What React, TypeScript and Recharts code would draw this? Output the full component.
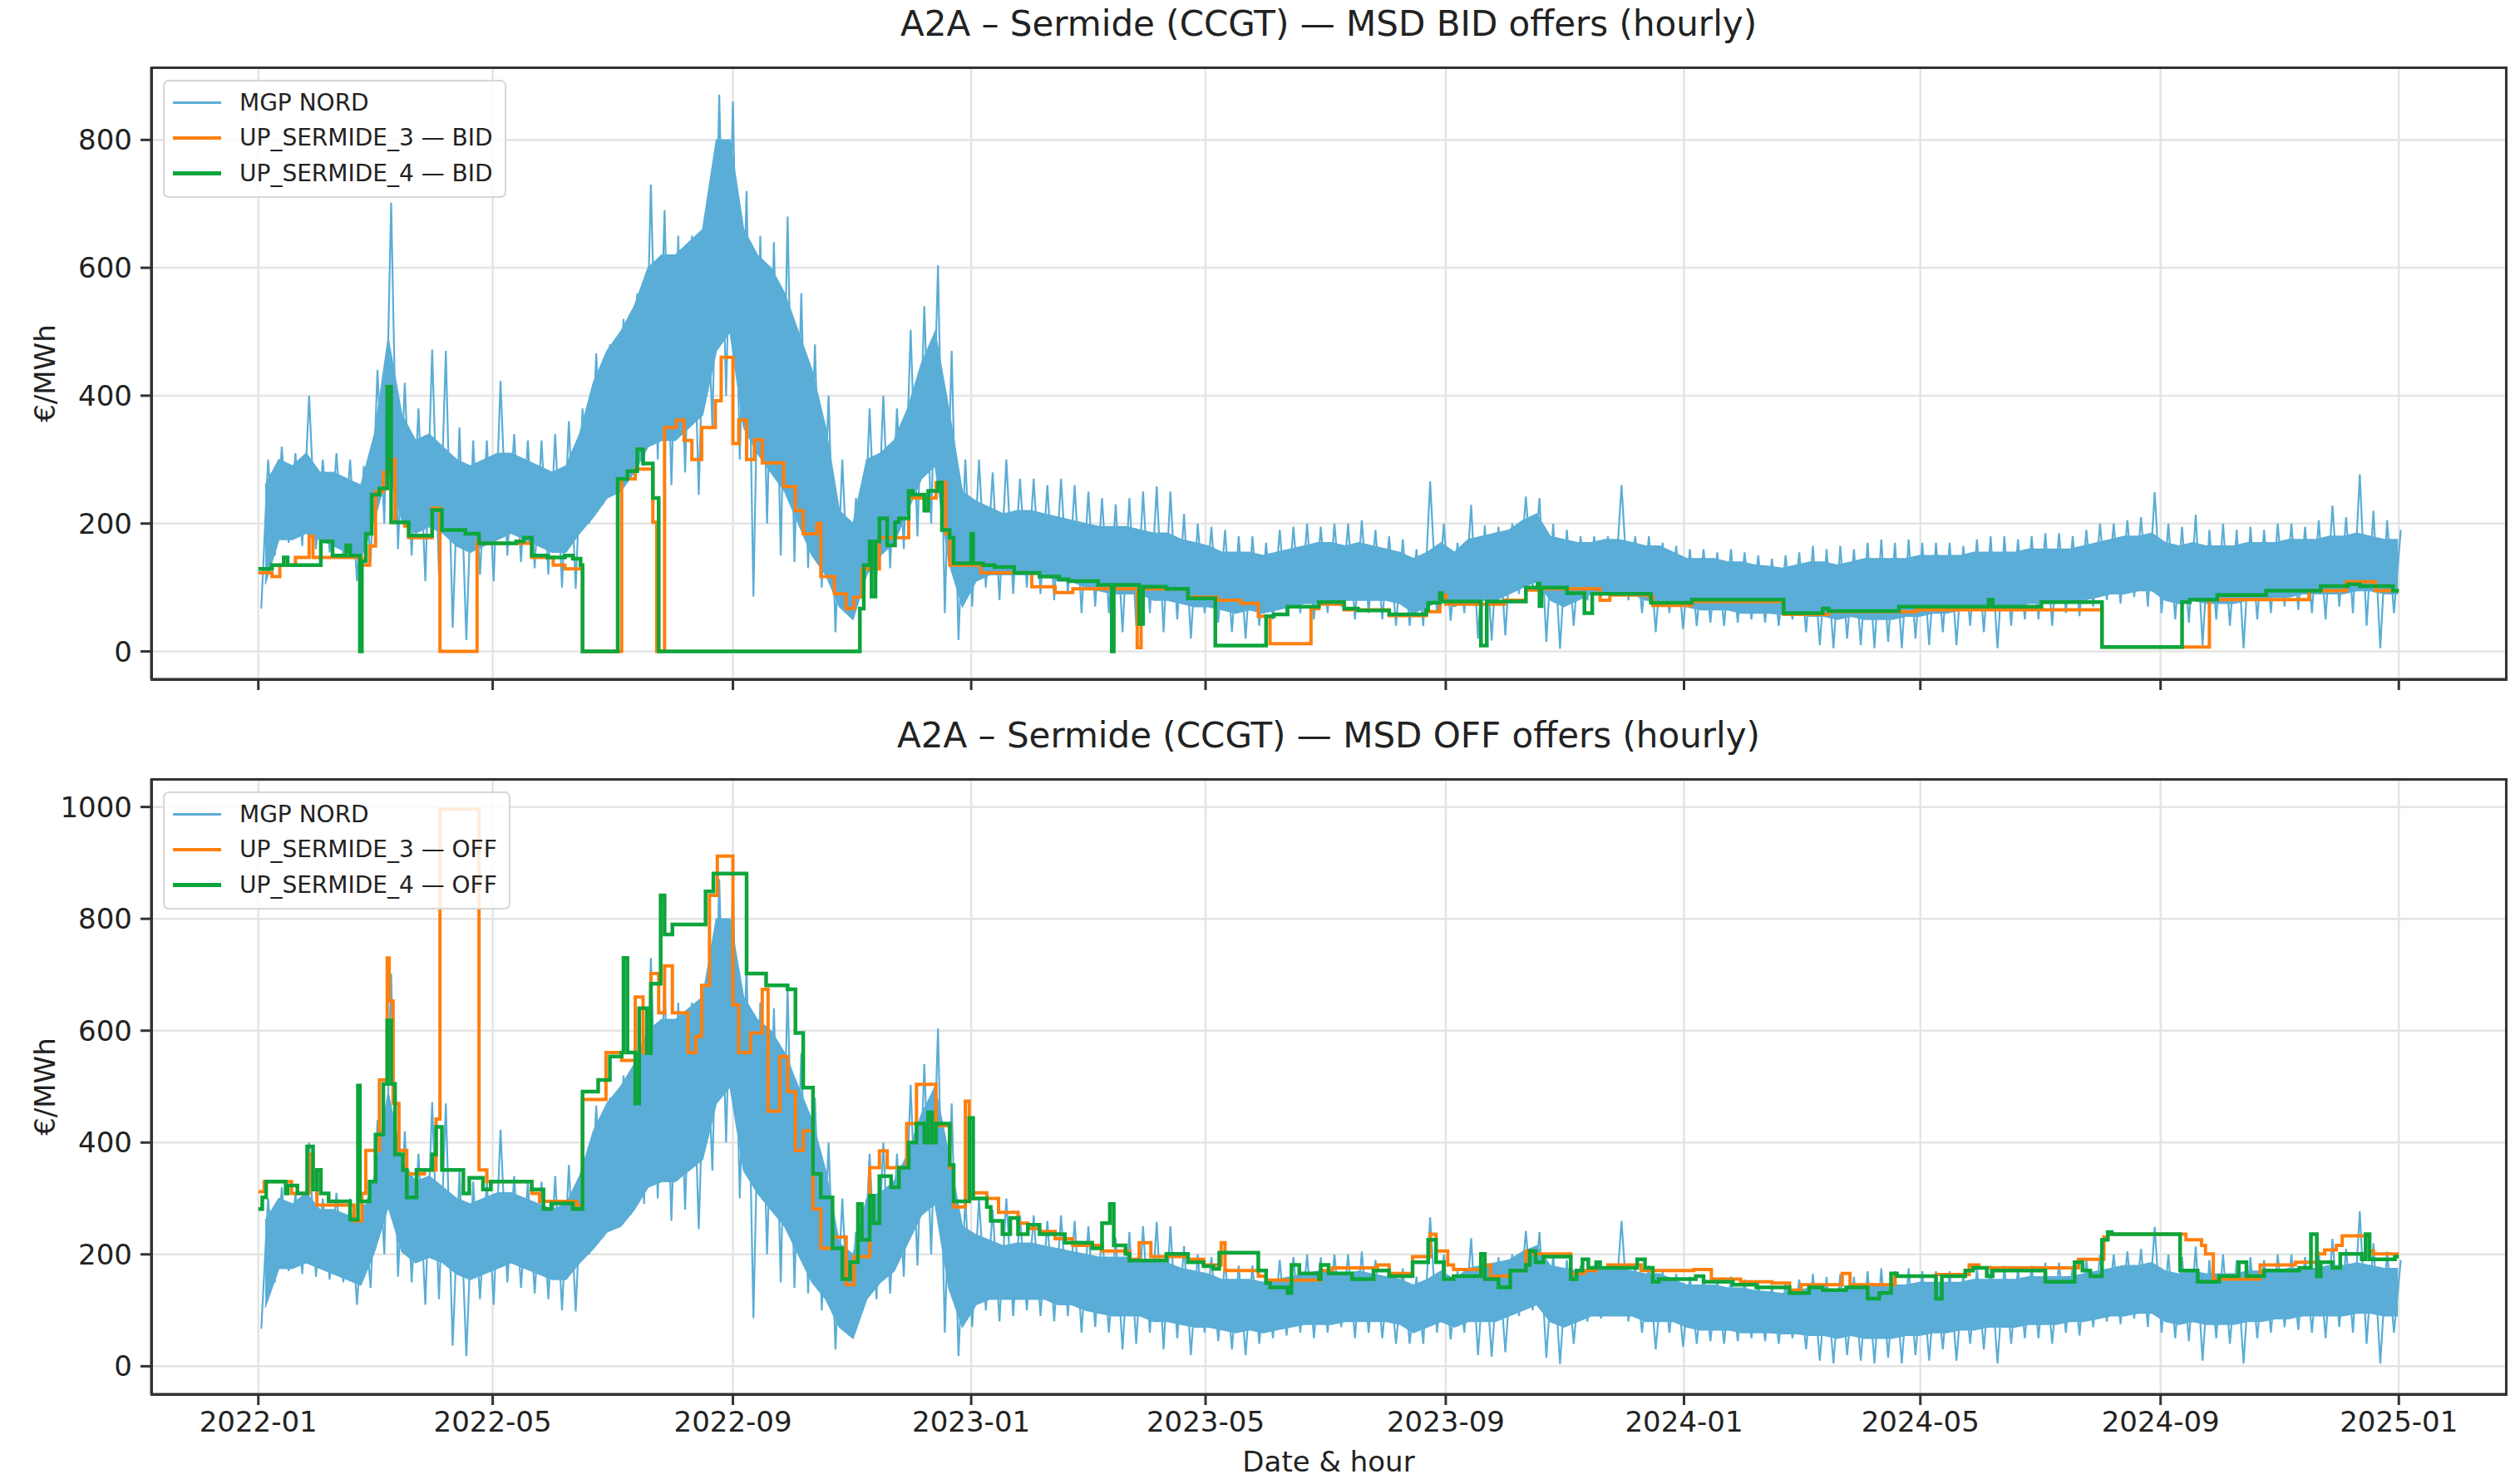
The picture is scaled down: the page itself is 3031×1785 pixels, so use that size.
import React from "react"
import { ComposedChart, Area, Line, XAxis, YAxis, CartesianGrid } from "recharts"

// x values are days since 2022-01-01 (hourly data, shown as weekly envelopes)
const TICK_DAYS = [0, 120, 243, 365, 485, 608, 730, 851, 974, 1096]
const TICK_LABELS = ["2022-01", "2022-05", "2022-09", "2023-01", "2023-05", "2023-09", "2024-01", "2024-05", "2024-09", "2025-01"]
const X_DOMAIN: [number, number] = [-54.8, 1150.8]

// MGP NORD weekly dense band (lo / hi) and weekly extremes (peak / trough), €/MWh
const MGP_LO = [
  105, 175, 175, 185, 175, 165, 155, 145, 205, 285, 205, 185, 195, 185, 165, 155, 165, 175, 185, 175,
  165, 155, 155, 185, 210, 240, 250, 280, 320, 330, 330, 350, 370, 470, 500, 350, 310, 280, 250, 200,
  150, 120, 70, 50, 120, 150, 170, 220, 270, 290, 140, 70, 110, 120, 120, 120, 120, 120, 110, 110,
  100, 95, 90, 90, 90, 80, 80, 75, 70, 70, 65, 60, 65, 60, 65, 70, 75, 75, 75, 80,
  80, 80, 80, 75, 60, 70, 80, 70, 80, 80, 80, 90, 100, 110, 80, 70, 80, 90, 90, 90,
  90, 80, 80, 80, 70, 65, 65, 65, 60, 60, 60, 58, 58, 55, 55, 50, 55, 50, 50, 50,
  55, 55, 60, 60, 65, 65, 70, 70, 70, 75, 75, 75, 80, 80, 85, 90, 90, 95, 95, 80,
  75, 80, 75, 75, 75, 80, 80, 85, 85, 90, 90, 90, 90, 95, 95, 90, 90,
]
const MGP_HI = [
  260, 300, 290, 310, 280, 280, 270, 260, 340, 490, 370, 330, 340, 320, 300, 290, 300, 310, 310, 300,
  290, 280, 290, 340, 420, 470, 500, 540, 600, 620, 620, 640, 660, 800, 800, 660, 620, 600, 560, 500,
  440, 350, 220, 200, 300, 310, 330, 380, 450, 500, 380, 250, 235, 225, 215, 220, 220, 215, 210, 205,
  200, 195, 195, 195, 190, 185, 185, 175, 170, 165, 155, 155, 155, 150, 155, 160, 165, 170, 170, 165,
  170, 165, 160, 155, 145, 155, 170, 155, 175, 180, 185, 190, 205, 215, 180, 175, 170, 170, 175, 175,
  170, 165, 165, 155, 145, 145, 145, 140, 140, 135, 133, 130, 135, 140, 140, 135, 140, 145, 145, 145,
  145, 150, 150, 150, 150, 155, 155, 155, 155, 160, 160, 160, 160, 165, 170, 175, 180, 180, 185, 170,
  165, 170, 165, 165, 165, 170, 170, 170, 175, 175, 175, 180, 180, 185, 180, 175, 175,
]
const MGP_PEAK = [
  300, 320, 310, 400, 300, 310, 300, 290, 440, 702, 420, 380, 472, 470, 350, 330, 330, 423, 340, 330,
  330, 340, 360, 380, 466, 480, 520, 560, 730, 690, 650, 650, 650, 871, 860, 720, 650, 640, 680, 560,
  480, 400, 300, 240, 380, 400, 380, 503, 540, 604, 470, 300, 300, 280, 300, 270, 270, 260, 270, 260,
  250, 240, 230, 240, 250, 258, 250, 215, 200, 195, 190, 180, 180, 170, 190, 195, 200, 195, 200, 200,
  205, 190, 180, 175, 160, 266, 200, 170, 229, 197, 195, 200, 242, 240, 200, 190, 180, 180, 180, 260,
  180, 180, 170, 165, 160, 160, 155, 160, 155, 150, 145, 150, 155, 165, 160, 165, 160, 170, 175, 170,
  175, 170, 170, 170, 165, 175, 180, 180, 175, 180, 185, 185, 180, 190, 200, 200, 205, 210, 249, 200,
  195, 214, 190, 200, 190, 195, 190, 200, 200, 195, 205, 228, 210, 277, 220, 205, 190,
]
const MGP_TROUGH = [
  67, 150, 170, 165, 160, 155, 150, 110, 140, 200, 160, 150, 110, 120, 37, 18, 120, 110, 150, 140,
  130, 120, 100, 98, 200, 230, 250, 270, 290, 300, 260, 280, 245, 350, 400, 300, 86, 200, 150, 140,
  130, 100, 30, 55, 100, 120, 130, 160, 180, 200, 60, 18, 70, 100, 80, 90, 100, 90, 80, 90,
  60, 70, 60, 30, 40, 60, 30, 50, 20, 60, 45, 30, 20, 40, 50, 55, 60, 50, 60, 70,
  50, 60, 50, 40, 40, 40, 60, 48, 60, 20, 17, 25, 90, 100, 15, 4, 40, 80, 85, 90,
  80, 60, 30, 60, 35, 40, 45, 40, 45, 50, 45, 40, 50, 30, 10, 5, 20, 10, 5, 15,
  5, 20, 10, 30, 10, 40, 30, 5, 40, 50, 50, 40, 60, 55, 70, 80, 75, 85, 70, 60,
  50, 45, 10, 50, 40, 5, 50, 60, 70, 65, 60, 50, 70, 60, 40, 5, 60,
]

// MSD BID offers, change points [day, €/MWh]
const BID_UP3: [number, number][] = [
  [0, 123], [7, 117], [11, 135], [19, 147], [26, 180], [28, 147], [53, 135], [57, 165], [60, 250], [64, 280],
  [67, 300], [70, 202], [75, 196], [77, 178], [89, 224], [93, 0], [112, 172], [113, 169], [140, 147], [151, 135],
  [157, 129], [166, 0], [186, 270], [193, 285], [202, 202], [204, 0], [208, 350], [214, 362], [218, 330], [222, 300],
  [227, 350], [234, 392], [237, 460], [243, 325], [246, 362], [250, 300], [254, 331], [258, 295], [269, 258], [275, 220],
  [279, 184], [286, 200], [288, 117], [295, 90], [301, 67], [305, 85], [309, 129], [318, 178], [333, 240], [347, 264],
  [352, 184], [354, 135], [370, 123], [396, 101], [408, 92], [417, 98], [450, 6], [452, 98], [476, 85], [491, 80],
  [503, 75], [512, 55], [518, 12], [539, 67], [543, 74], [556, 65], [579, 56], [598, 62], [605, 88], [608, 74],
  [638, 80], [649, 96], [657, 98], [687, 80], [692, 88], [712, 85], [714, 72], [734, 78], [781, 58], [804, 62],
  [849, 65], [944, 7], [999, 81], [1050, 95], [1069, 109], [1084, 95], [1096, 95],
]
const BID_UP4: [number, number][] = [
  [0, 129], [7, 135], [13, 147], [15, 135], [32, 172], [38, 150], [45, 166], [47, 150], [52, 0], [53, 141],
  [55, 184], [58, 245], [62, 255], [66, 414], [68, 202], [77, 181], [89, 221], [94, 190], [106, 184], [113, 169],
  [132, 172], [136, 178], [140, 150], [148, 147], [157, 150], [161, 145], [165, 135], [166, 0], [184, 270], [189, 282],
  [194, 316], [197, 294], [202, 240], [205, 0], [308, 67], [310, 135], [313, 172], [314, 86], [316, 172], [318, 208],
  [322, 166], [326, 202], [328, 208], [333, 251], [335, 245], [341, 220], [343, 251], [348, 264], [350, 190], [354, 178],
  [356, 138], [365, 184], [366, 138], [371, 135], [377, 132], [387, 123], [400, 117], [410, 113], [415, 110], [430, 104],
  [437, 0], [438, 104], [451, 43], [453, 101], [465, 98], [476, 83], [490, 9], [516, 55], [520, 58], [527, 70],
  [543, 77], [556, 67], [563, 64], [579, 58], [598, 65], [599, 76], [605, 91], [606, 78], [626, 9], [629, 78],
  [649, 100], [655, 106], [656, 71], [657, 100], [670, 91], [679, 60], [683, 90], [713, 76], [734, 81], [781, 60],
  [801, 67], [804, 63], [840, 70], [886, 81], [888, 70], [913, 77], [944, 7], [985, 77], [989, 81], [1003, 88],
  [1028, 95], [1056, 102], [1070, 105], [1076, 102], [1093, 95], [1096, 95],
]

// MSD OFF offers, change points [day, €/MWh]
const OFF_UP3: [number, number][] = [
  [0, 312], [3, 330], [17, 309], [26, 379], [28, 330], [30, 288], [49, 260], [53, 309], [55, 386], [62, 512],
  [66, 730], [67, 653], [69, 470], [72, 386], [76, 344], [85, 351], [91, 442], [93, 996], [113, 351], [117, 330],
  [140, 309], [144, 295], [163, 288], [166, 477], [178, 561], [186, 547], [193, 660], [197, 561], [201, 702], [205, 632],
  [208, 716], [212, 632], [220, 561], [224, 590], [227, 681], [231, 842], [235, 912], [243, 646], [246, 561], [252, 596],
  [258, 674], [261, 456], [267, 554], [271, 491], [275, 386], [279, 421], [284, 281], [288, 211], [294, 231], [301, 146],
  [305, 196], [313, 355], [318, 385], [322, 355], [332, 434], [337, 504], [347, 430], [354, 355], [356, 285], [362, 474],
  [364, 300], [366, 310], [373, 300], [379, 275], [389, 256], [394, 246], [400, 241], [408, 228], [417, 216], [432, 206],
  [446, 191], [451, 221], [457, 196], [476, 191], [484, 181], [493, 221], [495, 171], [512, 161], [516, 154], [544, 171],
  [550, 176], [573, 181], [579, 166], [591, 196], [600, 236], [603, 206], [609, 181], [612, 173], [628, 181], [631, 161],
  [641, 171], [649, 206], [653, 201], [672, 166], [679, 171], [685, 176], [691, 181], [708, 171], [735, 173], [744, 156],
  [759, 151], [775, 149], [784, 136], [790, 146], [811, 166], [815, 146], [838, 161], [859, 164], [876, 181], [881, 176],
  [932, 191], [945, 231], [947, 236], [987, 226], [995, 216], [997, 201], [1001, 156], [1025, 181], [1043, 186], [1054, 201],
  [1058, 208], [1064, 216], [1067, 233], [1081, 206], [1083, 201], [1096, 201],
]
const OFF_UP4: [number, number][] = [
  [0, 281], [2, 302], [4, 330], [14, 309], [15, 323], [20, 309], [25, 393], [28, 316], [30, 351], [32, 309],
  [36, 295], [47, 262], [51, 502], [52, 295], [57, 330], [60, 414], [64, 505], [66, 618], [68, 505], [70, 379],
  [74, 351], [76, 302], [81, 351], [89, 379], [91, 428], [94, 351], [105, 309], [108, 337], [115, 316], [119, 330],
  [140, 316], [146, 281], [150, 291], [161, 281], [166, 491], [174, 512], [180, 554], [186, 561], [187, 730], [189, 561],
  [193, 470], [195, 640], [199, 560], [201, 684], [206, 842], [208, 772], [212, 790], [229, 849], [233, 881], [250, 702],
  [260, 681], [271, 674], [275, 596], [279, 498], [284, 344], [288, 302], [294, 211], [299, 156], [303, 186], [307, 290],
  [309, 226], [313, 305], [315, 256], [318, 340], [324, 320], [328, 355], [333, 400], [337, 434], [341, 400], [343, 454],
  [345, 400], [347, 434], [354, 360], [356, 295], [364, 444], [366, 300], [373, 285], [375, 260], [381, 236], [385, 265],
  [389, 236], [394, 253], [400, 236], [413, 221], [427, 211], [432, 256], [436, 290], [438, 216], [444, 201], [446, 189],
  [465, 201], [476, 186], [484, 179], [489, 174], [492, 203], [512, 171], [516, 149], [518, 141], [527, 131], [529, 181],
  [533, 166], [543, 156], [544, 181], [548, 166], [560, 156], [571, 171], [579, 161], [591, 186], [599, 226], [603, 186],
  [607, 156], [612, 161], [626, 201], [628, 156], [635, 141], [641, 171], [649, 181], [651, 206], [654, 186], [658, 196],
  [672, 156], [675, 171], [678, 191], [681, 176], [685, 186], [687, 176], [706, 191], [710, 176], [714, 151], [717, 156],
  [736, 161], [740, 151], [755, 146], [767, 141], [784, 131], [794, 141], [801, 136], [813, 141], [824, 121], [830, 131],
  [836, 166], [839, 161], [859, 121], [862, 161], [874, 171], [878, 176], [885, 161], [888, 171], [915, 151], [930, 186],
  [934, 171], [938, 161], [944, 226], [947, 240], [949, 236], [984, 171], [993, 151], [1004, 161], [1014, 186], [1018, 161],
  [1027, 171], [1045, 176], [1051, 236], [1054, 161], [1056, 186], [1062, 176], [1066, 201], [1077, 191], [1079, 236], [1081, 191],
  [1094, 196], [1096, 196],
]

const BLUE = "#5aadd6"
const ORANGE = "#ff7f0e"
const GREEN = "#0da53b"
const FONT = "DejaVu Sans, sans-serif"
const INK = "#222"

const bandRows = MGP_LO.map((lo, i) => ({ x: 7 * i + 3.5, lo, hi: MGP_HI[i] }))
const spikeRows = MGP_PEAK.flatMap((peak, i) => [
  { x: 7 * i + 1.5, v: MGP_TROUGH[i] },
  { x: 7 * i + 5, v: peak },
])
const toRows = (pts: [number, number][]) => pts.map(([x, v]) => ({ x, v }))

const axisStroke = { stroke: "#333", strokeWidth: 3 }
const tickStyle = { fontSize: 34, fill: INK, fontFamily: FONT }

function Panel({ title, suffix, up3, up4, yDomain, yTicks, top, height, margin, xHeight, showLabels }: any) {
  const plotH = height - margin.top - margin.bottom - xHeight
  return (
    <div style={{ position: "absolute", left: 0, top, width: 3031, height }}>
      <ComposedChart width={3031} height={height} data={bandRows} margin={margin}>
        <CartesianGrid stroke="#e4e4e4" strokeWidth={2.5} />
        <XAxis
          dataKey="x"
          type="number"
          domain={X_DOMAIN}
          ticks={TICK_DAYS}
          allowDataOverflow
          height={xHeight}
          tickSize={13}
          tickMargin={8}
          axisLine={axisStroke}
          tickLine={axisStroke}
          tick={tickStyle}
          tickFormatter={(d: number) => (showLabels ? TICK_LABELS[TICK_DAYS.indexOf(d)] : "")}
        />
        <YAxis
          type="number"
          domain={yDomain}
          ticks={yTicks}
          allowDataOverflow
          width={182}
          tickSize={13}
          tickMargin={10}
          axisLine={axisStroke}
          tickLine={axisStroke}
          tick={tickStyle}
        />
        <Area
          dataKey={(d: any) => [d.lo, d.hi]}
          type="linear"
          stroke={BLUE}
          strokeWidth={1.5}
          fill={BLUE}
          fillOpacity={1}
          isAnimationActive={false}
        />
        <Line data={spikeRows} dataKey="v" type="linear" stroke={BLUE} strokeWidth={2.2} dot={false} isAnimationActive={false} />
        <Line data={toRows(up3)} dataKey="v" type="stepAfter" stroke={ORANGE} strokeWidth={4} dot={false} isAnimationActive={false} />
        <Line data={toRows(up4)} dataKey="v" type="stepAfter" stroke={GREEN} strokeWidth={4.5} dot={false} isAnimationActive={false} />
      </ComposedChart>
      {/* axes frame (matplotlib-style box) */}
      <div
        style={{
          position: "absolute", left: 180.5, top: margin.top - 1.5, width: 2835, height: plotH + 3,
          border: "3px solid #333", boxSizing: "border-box", pointerEvents: "none",
        }}
      />
      <div
        style={{
          position: "absolute", left: 182, width: 2832, top: margin.top - 77, textAlign: "center",
          fontFamily: FONT, fontSize: 42, color: INK, lineHeight: "50px",
        }}
      >
        {title}
      </div>
      <div
        style={{
          position: "absolute", left: 54 - 100, width: 200, top: margin.top + plotH / 2 - 20,
          textAlign: "center", fontFamily: FONT, fontSize: 34, color: INK, lineHeight: "40px", transform: "rotate(-90deg)",
        }}
      >
        €/MWh
      </div>
      <div
        style={{
          position: "absolute", left: 196, top: margin.top + 15, padding: "4px 14px 6px 10px",
          background: "rgba(255,255,255,0.85)", border: "2px solid #d6d6d6", borderRadius: 7,
          fontFamily: FONT, fontSize: 28, color: INK,
        }}
      >
        {[["MGP NORD", BLUE, 2.5], [`UP_SERMIDE_3 — ${suffix}`, ORANGE, 4], [`UP_SERMIDE_4 — ${suffix}`, GREEN, 4.5]].map(([label, color, w]: any) => (
          <div key={label} style={{ display: "flex", alignItems: "center", height: 42.5 }}>
            <div style={{ width: 58, height: w, background: color, marginRight: 22 }} />
            <span>{label}</span>
          </div>
        ))}
      </div>
    </div>
  )
}

export default function App() {
  return (
    <div style={{ position: "absolute", left: 0, top: 0, width: 3031, height: 1785, background: "#fff" }}>
      <Panel
        title="A2A – Sermide (CCGT) — MSD BID offers (hourly)"
        suffix="BID"
        up3={BID_UP3}
        up4={BID_UP4}
        yDomain={[-43.5, 913.5]}
        yTicks={[0, 200, 400, 600, 800]}
        top={0}
        height={860}
        margin={{ top: 81, right: 17, bottom: 23, left: 0 }}
        xHeight={20}
        showLabels={false}
      />
      <Panel
        title="A2A – Sermide (CCGT) — MSD OFF offers (hourly)"
        suffix="OFF"
        up3={OFF_UP3}
        up4={OFF_UP4}
        yDomain={[-50, 1050]}
        yTicks={[0, 200, 400, 600, 800, 1000]}
        top={860}
        height={925}
        margin={{ top: 77, right: 17, bottom: 48, left: 0 }}
        xHeight={60}
        showLabels={true}
      />
      <div
        style={{
          position: "absolute", left: 182, width: 2832, top: 1738, textAlign: "center",
          fontFamily: FONT, fontSize: 34, color: INK, lineHeight: "40px",
        }}
      >
        Date &amp; hour
      </div>
    </div>
  )
}
